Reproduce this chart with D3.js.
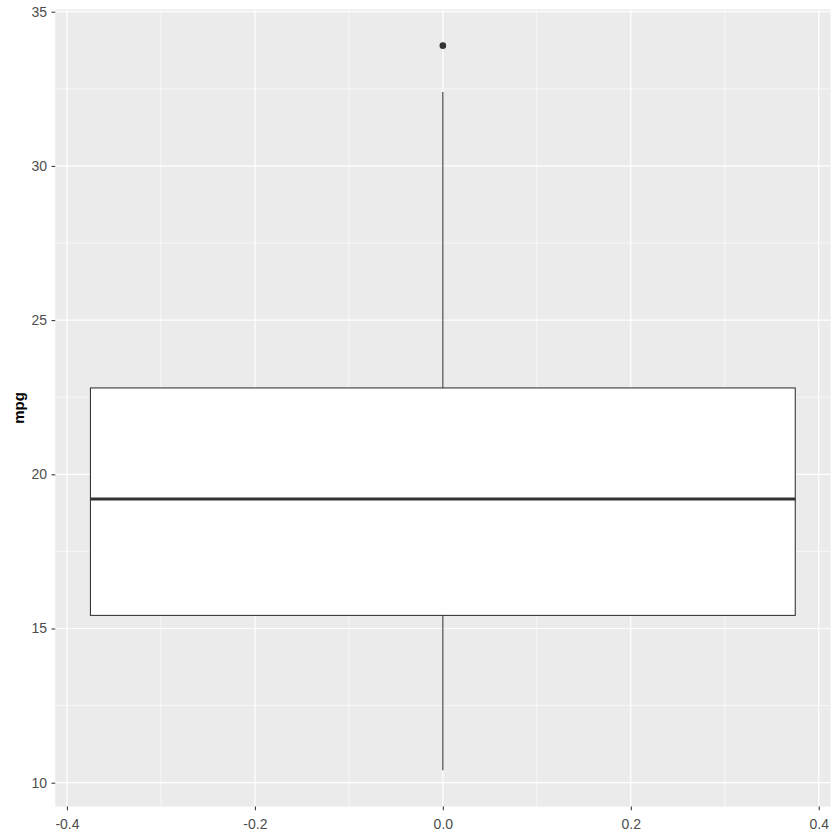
<!DOCTYPE html>
<html><head><meta charset="utf-8">
<script src="https://cdn.jsdelivr.net/npm/d3@7"></script>
<style>body{margin:0;background:#fff}svg{display:block}</style>
</head><body><div id="chart"></div>
<script>
// data: mtcars mpg boxplot summary
const categories = [0];
const lowerWhisker = [10.4];
const q1 = [15.425];
const median = [19.2];
const q3 = [22.8];
const upperWhisker = [32.4];
const outliers = [[33.9]];
const yTicks = [10, 15, 20, 25, 30, 35];
const yMinor = [12.5, 17.5, 22.5, 27.5, 32.5];
const xTicks = [-0.4, -0.2, 0.0, 0.2, 0.4];
const xMinor = [-0.3, -0.1, 0.1, 0.3];
const yTitle = "mpg";
const boxHalfWidth = 0.375;

const W = 840, H = 840;
const panel = {l: 55.2, r: 830.5, t: 9.4, b: 806.6};
const svg = d3.select("#chart").append("svg").attr("width", W).attr("height", H);

const x = d3.scaleLinear().domain([-0.4125, 0.4125]).range([panel.l, panel.r]);
const y = d3.scaleLinear().domain([9.225, 35.075]).range([panel.b, panel.t]);

svg.append("rect").attr("x", panel.l).attr("y", panel.t)
  .attr("width", panel.r - panel.l).attr("height", panel.b - panel.t).attr("fill", "#EBEBEB");

const g = svg.append("g");
g.selectAll(".ymin").data(yMinor).join("line")
  .attr("x1", panel.l).attr("x2", panel.r).attr("y1", d => y(d)).attr("y2", d => y(d))
  .attr("stroke", "#fff").attr("stroke-width", 0.6);
g.selectAll(".xmin").data(xMinor).join("line")
  .attr("y1", panel.t).attr("y2", panel.b).attr("x1", d => x(d)).attr("x2", d => x(d))
  .attr("stroke", "#fff").attr("stroke-width", 0.6);
g.selectAll(".ymaj").data(yTicks).join("line")
  .attr("x1", panel.l).attr("x2", panel.r).attr("y1", d => y(d)).attr("y2", d => y(d))
  .attr("stroke", "#fff").attr("stroke-width", 1.2);
g.selectAll(".xmaj").data(xTicks).join("line")
  .attr("y1", panel.t).attr("y2", panel.b).attr("x1", d => x(d)).attr("x2", d => x(d))
  .attr("stroke", "#fff").attr("stroke-width", 1.2);

// box
const b = svg.append("g");
categories.forEach((c, i) => {
  b.append("line").attr("x1", x(c)).attr("x2", x(c)).attr("y1", y(q3[i])).attr("y2", y(upperWhisker[i]))
    .attr("stroke", "#333333").attr("stroke-width", 1.07);
  b.append("line").attr("x1", x(c)).attr("x2", x(c)).attr("y1", y(q1[i])).attr("y2", y(lowerWhisker[i]))
    .attr("stroke", "#333333").attr("stroke-width", 1.07);
  b.append("rect").attr("x", x(c - boxHalfWidth)).attr("y", y(q3[i]))
    .attr("width", x(c + boxHalfWidth) - x(c - boxHalfWidth)).attr("height", y(q1[i]) - y(q3[i]))
    .attr("fill", "#fff").attr("stroke", "#333333").attr("stroke-width", 1.07);
  b.append("line").attr("x1", x(c - boxHalfWidth)).attr("x2", x(c + boxHalfWidth))
    .attr("y1", y(median[i])).attr("y2", y(median[i])).attr("stroke", "#333333").attr("stroke-width", 2.8);
  b.selectAll(null).data(outliers[i]).join("circle").attr("cx", x(c)).attr("cy", d => y(d))
    .attr("r", 3.3).attr("fill", "#333333");
});

// axes
const yAxis = svg.append("g").attr("transform", `translate(${panel.l},0)`)
  .call(d3.axisLeft(y).tickValues(yTicks).tickSize(3.7).tickPadding(4.5).tickFormat(d3.format("d")));
const xAxis = svg.append("g").attr("transform", `translate(0,${panel.b})`)
  .call(d3.axisBottom(x).tickValues(xTicks).tickSize(3.7).tickPadding(8.6).tickFormat(d3.format(".1f")));
[yAxis, xAxis].forEach(a => {
  a.select(".domain").remove();
  a.selectAll(".tick line").attr("stroke", "#333333").attr("stroke-width", 1.07);
  a.selectAll("text").attr("fill", "#4D4D4D").style("font-family", "Liberation Sans, Arial, sans-serif").style("font-size", "14px");
});
xAxis.selectAll("text").text(d => d3.format(".1f")(d).replace("−", "-"));

svg.append("text").attr("transform", `translate(24,${(panel.t + panel.b) / 2}) rotate(-90)`)
  .attr("text-anchor", "middle").attr("fill", "#000")
  .style("font-family", "Liberation Sans, Arial, sans-serif").style("font-size", "15px").style("font-weight", "bold")
  .text(yTitle);
</script></body></html>
